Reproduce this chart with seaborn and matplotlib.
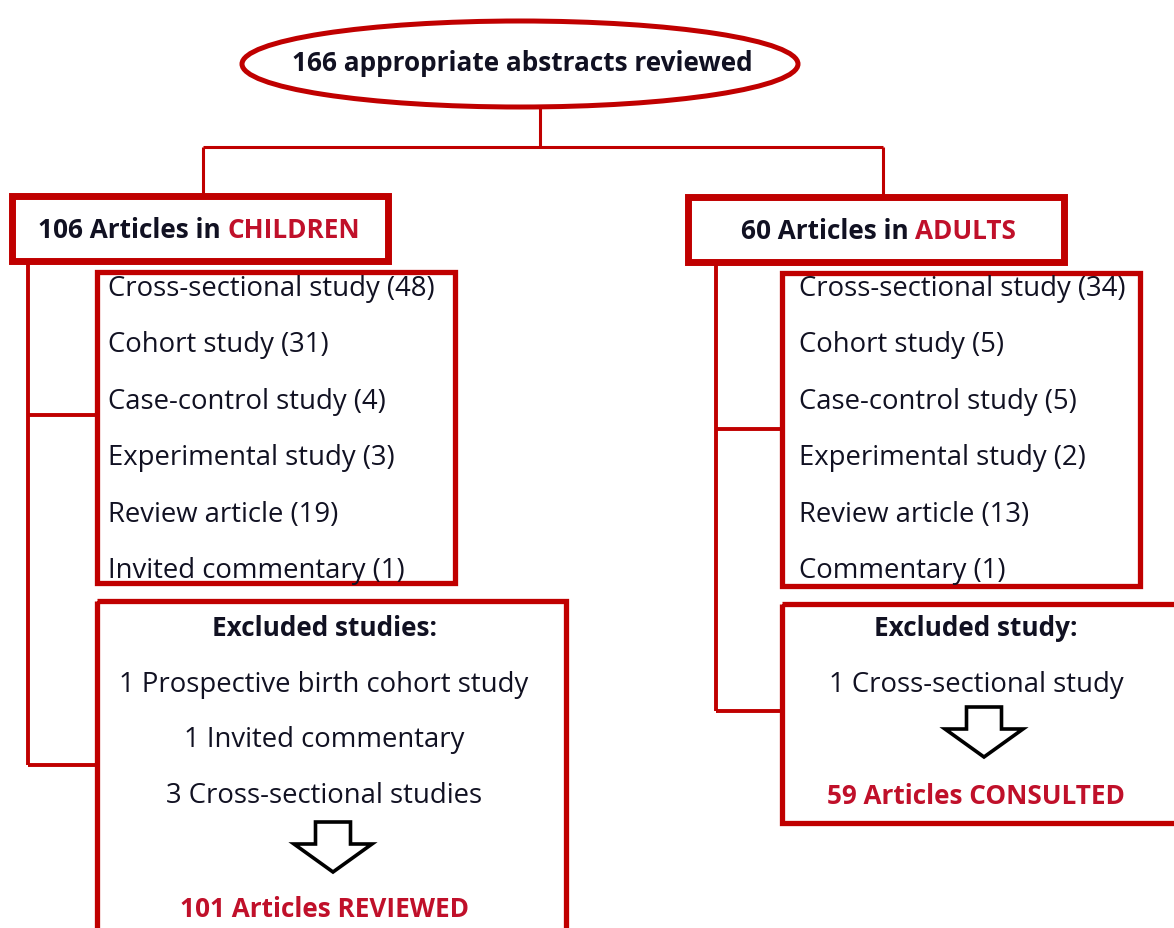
import matplotlib
matplotlib.use("Agg")
import matplotlib.pyplot as plt
from matplotlib.patches import Ellipse, Rectangle, FancyArrow
import seaborn as sns

# flow of reviewed abstracts
total_abstracts = 166
groups = ["CHILDREN", "ADULTS"]
group_totals = [106, 60]

child_types = ["Cross-sectional study", "Cohort study", "Case-control study",
               "Experimental study", "Review article", "Invited commentary"]
child_counts = [48, 31, 4, 3, 19, 1]
adult_types = ["Cross-sectional study", "Cohort study", "Case-control study",
               "Experimental study", "Review article", "Commentary"]
adult_counts = [34, 5, 5, 2, 13, 1]

child_excluded = ["1 Prospective birth cohort study", "1 Invited commentary",
                  "3 Cross-sectional studies"]
adult_excluded = ["1 Cross-sectional study"]
final_counts = [101, 59]
final_words = ["REVIEWED", "CONSULTED"]

sns.set_theme(style="white")
plt.rcParams["font.family"] = ["Open Sans", "DejaVu Sans"]

RED = "#c00000"
TXT_RED = "#c0102a"
DARK = "#111122"
BIG = 18.8   # bold headings
REG = 19.8   # plain list text

fig = plt.figure(figsize=(11.74, 9.29), dpi=100)
ax = fig.add_axes([0, 0, 1, 1])
ax.set_xlim(0, 1174)
ax.set_ylim(929, 0)
ax.axis("off")


def box(x0, y0, x1, y1, lw):
    ax.add_patch(Rectangle((x0, y0), x1 - x0, y1 - y0, fill=False,
                           ec=RED, lw=lw, joinstyle="miter", clip_on=False))


def line(xs, ys, lw=2.2):
    ax.plot(xs, ys, color=RED, lw=lw, solid_capstyle="butt")


# top ellipse
ax.add_patch(Ellipse((520, 65), 556, 86, fill=False, ec=RED, lw=3.6))
ax.text(522, 63, f"{total_abstracts} appropriate abstracts reviewed",
        ha="center", va="center", fontsize=BIG, fontweight="bold", color=DARK)

# tree connectors
line([540, 540], [108, 148])
line([203, 883], [148, 148])
line([203, 203], [148, 197])
line([883, 883], [148, 197])

layout = [
    dict(head=(12, 197, 388, 262), lst=(97, 273, 455, 584),
         exc=(97, 602, 566, 940), trunk=28, br=(416, 766), hx=38,
         cx=324, ax_=333, ay=823, fy=910),
    dict(head=(688, 198, 1064, 263), lst=(782, 274, 1140, 587),
         exc=(782, 605, 1185, 824), trunk=716, br=(430, 712), hx=741,
         cx=976, ax_=984, ay=708, fy=797),
]
types_all = [child_types, adult_types]
counts_all = [child_counts, adult_counts]
excl_all = [child_excluded, adult_excluded]
excl_titles = ["Excluded studies:", "Excluded study:"]

for i, L in enumerate(layout):
    box(*L["head"], lw=5)
    box(*L["lst"], lw=3.8)
    box(*L["exc"], lw=3.8)

    hy = (L["head"][1] + L["head"][3]) / 2 + 1
    t = ax.text(L["hx"], hy, f"{group_totals[i]} Articles in ",
                ha="left", va="center", fontsize=BIG, fontweight="bold", color=DARK)
    ax.annotate(groups[i], xy=(1, 0.5), xycoords=t, va="center", ha="left",
                fontsize=BIG, fontweight="bold", color=TXT_RED)

    # trunk with branches
    tx = L["trunk"]
    line([tx, tx], [L["head"][3], L["br"][1]], lw=2.8)
    line([tx, L["lst"][0]], [L["br"][0], L["br"][0]], lw=2.8)
    line([tx, L["exc"][0]], [L["br"][1], L["br"][1]], lw=2.8)

    lx = L["lst"][0] + (11 if i == 0 else 17)
    for k, (name, n) in enumerate(zip(types_all[i], counts_all[i])):
        ax.text(lx, 289 + k * 56.4, f"{name} ({n})", ha="left", va="center",
                fontsize=REG, color=DARK)

    cx = L["cx"]
    ax.text(cx, 628, excl_titles[i], ha="center", va="center",
            fontsize=BIG, fontweight="bold", color=DARK)
    for k, item in enumerate(excl_all[i]):
        ax.text(cx, 685 + k * 55.3, item, ha="center", va="center",
                fontsize=REG, color=DARK)
    ax.add_patch(FancyArrow(L["ax_"], L["ay"], 0, 50, width=35, head_width=78,
                            head_length=28, length_includes_head=True,
                            fc="white", ec="black", lw=2.6))
    ax.text(cx, L["fy"], f"{final_counts[i]} Articles {final_words[i]}",
            ha="center", va="center", fontsize=BIG, fontweight="bold",
            color=TXT_RED)

fig.savefig("out.png", dpi=100, facecolor="white")
